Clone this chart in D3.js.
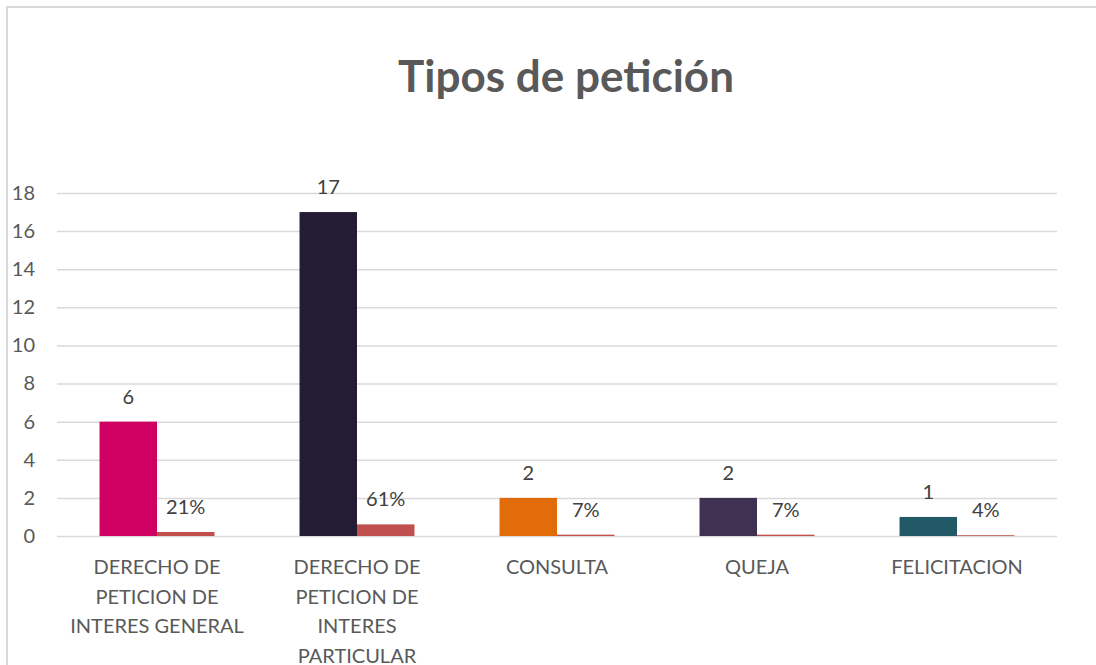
<!DOCTYPE html>
<html>
<head>
<meta charset="utf-8">
<script src="https://cdn.jsdelivr.net/npm/d3@7"></script>
<style>
  body { margin: 0; background: #fff; }
  svg { display: block; font-family: Lato, "Open Sans", sans-serif; }
</style>
</head>
<body>
<div id="chart-area"></div>
<script>
// data
var categories = ["DERECHO DE PETICION DE INTERES GENERAL", "DERECHO DE PETICION DE INTERES PARTICULAR", "CONSULTA", "QUEJA", "FELICITACION"];
var categoryLines = [
    ["DERECHO DE", "PETICION DE", "INTERES GENERAL"],
    ["DERECHO DE", "PETICION DE", "INTERES", "PARTICULAR"],
    ["CONSULTA"],
    ["QUEJA"],
    ["FELICITACION"]
];
var counts = [6, 17, 2, 2, 1];
var shares = [0.21, 0.61, 0.07, 0.07, 0.04];
var countColors = ["#d10063", "#241b35", "#e36c0a", "#3f3151", "#215967"];
var shareColor = "#c0504d";
var yTicks = [0, 2, 4, 6, 8, 10, 12, 14, 16, 18];

var W = 1096, H = 665;
var margin = { top: 193, right: 39, bottom: 129, left: 57 };
var width = W - margin.left - margin.right;
var height = H - margin.top - margin.bottom;

var svg = d3.select("#chart-area").append("svg")
    .attr("width", W)
    .attr("height", H);

// chart frame (only top and left edges show)
svg.append("path")
    .attr("d", "M7," + H + "V7H" + W)
    .attr("fill", "none")
    .attr("stroke", "#d9d9d9")
    .attr("stroke-width", 2);

// title
svg.append("text")
    .attr("x", 566)
    .attr("y", 92)
    .attr("text-anchor", "middle")
    .attr("font-size", 44)
    .attr("font-weight", "bold")
    .attr("fill", "#595959")
    .text("Tipos de petición");

var g = svg.append("g")
    .attr("transform", "translate(" + margin.left + "," + margin.top + ")");

// scales
var x0 = d3.scaleBand()
    .domain(categories)
    .range([0, width]);

var x1 = d3.scaleBand()
    .domain(["count", "share"])
    .range([0, x0.bandwidth()])
    .paddingOuter(0.74);

var y = d3.scaleLinear()
    .domain([0, 18])
    .range([height, 0]);

// gridlines
var yGrid = d3.axisLeft(y).tickValues(yTicks).tickSize(-width).tickFormat("");
g.append("g").attr("class", "grid").call(yGrid)
    .call(function (s) { s.select(".domain").remove(); })
    .selectAll("line")
    .attr("stroke", "#d9d9d9")
    .attr("stroke-width", 1.5);

// y axis labels
var yAxis = d3.axisLeft(y).tickValues(yTicks).tickSize(0).tickPadding(22);
g.append("g").call(yAxis)
    .call(function (s) { s.select(".domain").remove(); })
    .selectAll("text")
    .attr("font-family", "Lato, sans-serif")
    .attr("font-size", 20)
    .attr("fill", "#595959");

// bars
var groups = g.selectAll(".cat").data(categories).enter()
    .append("g")
    .attr("class", "cat")
    .attr("transform", function (d) { return "translate(" + x0(d) + ",0)"; });

groups.append("rect")
    .attr("x", x1("count"))
    .attr("width", x1.bandwidth())
    .attr("y", function (d, i) { return y(counts[i]); })
    .attr("height", function (d, i) { return height - y(counts[i]); })
    .attr("fill", function (d, i) { return countColors[i]; });

groups.append("rect")
    .attr("x", x1("share"))
    .attr("width", x1.bandwidth())
    .attr("y", function (d, i) { return y(shares[i]); })
    .attr("height", function (d, i) { return height - y(shares[i]); })
    .attr("fill", shareColor);

// value labels
groups.append("text")
    .attr("x", x1("count") + x1.bandwidth() / 2)
    .attr("y", function (d, i) { return y(counts[i]) - 18; })
    .attr("text-anchor", "middle")
    .attr("font-size", 20)
    .attr("fill", "#404040")
    .text(function (d, i) { return counts[i]; });

groups.append("text")
    .attr("x", x1("share") + x1.bandwidth() / 2)
    .attr("y", function (d, i) { return y(shares[i]) - 18; })
    .attr("text-anchor", "middle")
    .attr("font-size", 20)
    .attr("fill", "#404040")
    .text(function (d, i) { return d3.format(".0%")(shares[i]); });

// x axis category labels
var xAxis = d3.axisBottom(x0).tickSize(0).tickFormat("");
var xg = g.append("g")
    .attr("transform", "translate(0," + height + ")")
    .call(xAxis);
xg.select(".domain").remove();

xg.selectAll(".tick").each(function (d, i) {
    var t = d3.select(this).append("text")
        .attr("text-anchor", "middle")
        .attr("font-family", "Lato, sans-serif")
        .attr("font-size", 20)
        .attr("fill", "#595959");
    categoryLines[i].forEach(function (line, k) {
        t.append("tspan")
            .attr("x", 0)
            .attr("y", 38 + k * 29.6)
            .text(line);
    });
});
</script>
</body>
</html>
